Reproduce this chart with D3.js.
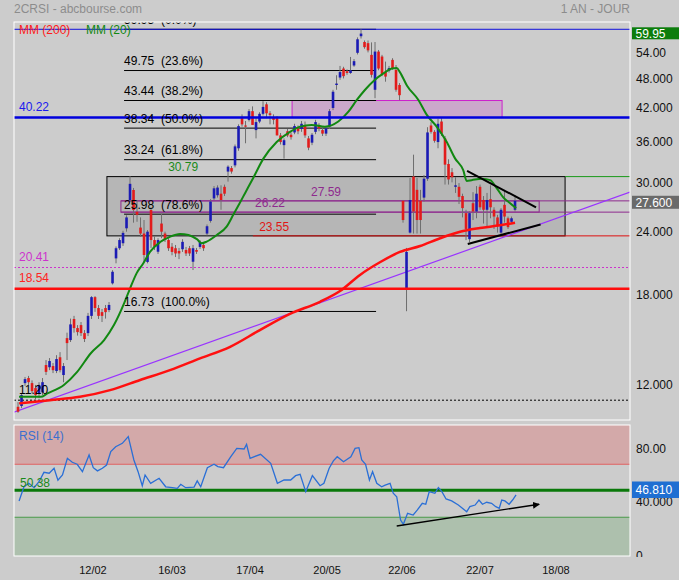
<!DOCTYPE html>
<html>
<head>
<meta charset="utf-8">
<script src="https://cdn.jsdelivr.net/npm/d3@7"></script>
<style>
  body { margin: 0; background: #cccccc; }
  svg { display: block; font-family: "Liberation Sans", Arial, sans-serif; }
</style>
</head>
<body>
<svg id="chart" width="679" height="580"></svg>
<script>
// daily candles, one entry per session (index 0 = first session shown)
const open = [10.87, 10.91, 12.1, 12.38, 12.1, 11.83, 11.56, 11.6, 13.13, 13.0, 13.07, 12.78, 13.6, 12.55, 14.83, 14.7, 16.17, 15.52, 15.73, 15.17,
  15.17, 16.4, 17.85, 16.99, 16.68, 16.99, 16.84, 19.0, 21.27, 22.27, 22.78, 24.37, 27.7, 28.98, 26.27, 24.45, 23.8, 20.93, 26.47, 23.11,
  21.92, 24.9, 23.8, 23.11, 22.42, 22.27, 22.0, 22.17, 22.09, 22.27, 20.95, 22.09, 22.4, 22.6, 23.8, 25.2, 27.9, 28.3, 28.5, 29.4,
  31.5, 32.0, 32.4, 35.0, 40.1, 38.8, 39.78, 41.4, 38.0, 39.5, 40.9, 42.7, 41.0, 40.2, 40.1, 37.1, 35.5, 37.8, 37.2, 37.6,
  38.3, 38.2, 38.7, 36.6, 35.9, 37.7, 38.8, 38.0, 37.4, 38.6, 42.0, 46.6, 48.2, 50.2, 49.6, 49.2, 50.9, 53.9, 58.1, 56.6,
  56.3, 53.4, 45.6, 54.2, 53.0, 49.5, 49.7, 52.2, 49.9, 46.6, 27.6, 18.57, 23.9, 30.8, 29.0, 27.6, 28.0, 30.5, 38.8, 37.7,
  36.0, 39.5, 36.6, 32.6, 31.4, 29.4, 29.4, 28.2, 26.1, 23.2, 27.3, 26.3, 29.4, 27.7, 26.5, 27.8, 26.5, 25.6, 23.9, 27.1,
  25.5, 25.1, 26.5];
const high = [11.1, 11.56, 12.44, 12.5, 12.25, 12.0, 12.15, 12.38, 13.43, 13.55, 13.25, 13.73, 13.92, 13.25, 15.2, 16.2, 16.4, 15.73, 15.95, 15.38,
  16.62, 17.93, 17.93, 17.23, 16.92, 17.23, 17.46, 20.17, 22.45, 23.3, 24.1, 25.85, 30.85, 29.25, 27.7, 25.6, 25.3, 24.18, 26.8, 23.5,
  23.3, 26.0, 24.0, 23.3, 22.8, 22.6, 22.3, 23.2, 22.4, 22.5, 22.6, 22.3, 23.1, 22.8, 24.8, 27.8, 29.5, 29.6, 29.6, 29.7,
  32.4, 32.3, 35.6, 39.0, 40.8, 39.6, 41.8, 42.3, 40.2, 41.2, 43.3, 43.1, 41.4, 40.8, 40.5, 37.5, 36.6, 38.2, 37.6, 39.1,
  38.8, 39.6, 39.5, 37.0, 37.5, 39.8, 39.2, 38.4, 38.7, 41.8, 45.6, 48.7, 50.8, 50.6, 50.0, 52.9, 52.4, 57.8, 59.95, 57.0,
  57.0, 56.5, 56.6, 54.6, 53.4, 51.8, 50.8, 52.6, 51.0, 47.0, 27.7, 22.3, 30.6, 34.0, 30.6, 29.0, 31.0, 38.5, 39.4, 38.0,
  40.0, 40.1, 37.0, 33.3, 32.0, 30.7, 29.9, 28.5, 26.5, 26.3, 28.7, 29.5, 29.7, 28.2, 28.6, 29.6, 26.8, 25.9, 26.7, 29.0,
  25.7, 25.7, 28.3];
const low = [10.58, 10.81, 11.95, 12.0, 11.55, 11.25, 11.3, 11.46, 12.55, 12.83, 12.66, 12.66, 12.7, 12.15, 13.43, 14.57, 15.2, 15.0, 14.97, 14.57,
  14.97, 16.17, 16.7, 16.17, 15.95, 16.2, 16.68, 18.9, 20.8, 22.1, 22.5, 24.0, 27.45, 25.0, 25.1, 23.45, 20.9, 20.8, 22.3, 22.1,
  21.7, 23.3, 22.9, 22.0, 21.57, 21.4, 21.2, 21.9, 21.5, 21.5, 20.18, 21.7, 22.2, 22.0, 23.6, 25.0, 27.7, 28.0, 26.5, 28.2,
  30.1, 31.2, 32.1, 34.6, 38.6, 35.8, 39.5, 38.9, 36.6, 39.2, 40.6, 40.1, 39.0, 39.0, 37.1, 35.6, 33.4, 36.8, 36.4, 37.3,
  37.3, 37.7, 36.7, 34.7, 35.5, 37.3, 37.8, 37.0, 37.0, 38.2, 41.6, 45.6, 47.7, 48.0, 48.8, 49.0, 50.6, 53.5, 57.5, 54.9,
  54.0, 48.2, 43.9, 49.8, 48.5, 47.3, 49.3, 49.9, 45.2, 43.5, 25.0, 16.75, 23.8, 23.8, 23.8, 23.8, 27.5, 30.2, 37.4, 35.9,
  35.0, 37.0, 29.7, 29.7, 30.0, 28.6, 27.2, 25.6, 23.1, 22.9, 25.3, 25.5, 26.5, 24.9, 24.6, 25.5, 24.3, 23.9, 23.7, 25.0,
  24.3, 24.9, 26.3];
const close = [10.63, 11.46, 12.32, 12.15, 11.67, 11.46, 12.0, 12.15, 12.73, 13.37, 12.83, 13.49, 12.83, 13.07, 14.5, 15.78, 15.52, 15.24, 15.17, 14.77,
  16.4, 17.85, 16.99, 16.4, 16.4, 16.68, 17.23, 20.02, 22.27, 23.11, 23.87, 25.6, 29.8, 26.47, 25.9, 23.8, 21.6, 24.0, 23.11, 22.42,
  23.11, 24.0, 23.17, 22.27, 21.9, 21.75, 21.75, 22.92, 21.75, 21.75, 22.27, 21.92, 22.92, 22.27, 24.6, 27.5, 29.2, 29.3, 27.7, 28.5,
  32.2, 31.5, 35.3, 38.7, 39.0, 38.6, 41.4, 38.9, 39.4, 40.9, 42.2, 41.0, 40.7, 39.8, 37.1, 36.0, 36.3, 37.1, 36.8, 38.7,
  37.8, 39.1, 37.1, 35.1, 37.2, 39.4, 38.3, 37.4, 38.3, 41.4, 45.2, 46.9, 49.4, 48.5, 49.2, 49.8, 51.9, 57.3, 58.8, 55.3,
  54.5, 48.8, 54.2, 50.2, 48.9, 48.4, 50.3, 50.3, 45.6, 44.5, 25.3, 21.9, 27.7, 26.3, 25.3, 25.3, 30.5, 37.6, 37.7, 36.2,
  39.1, 37.4, 32.5, 30.4, 30.7, 29.6, 28.1, 26.7, 24.3, 26.1, 26.3, 28.5, 26.8, 26.5, 27.7, 26.8, 25.7, 24.6, 26.5, 25.7,
  24.5, 25.5, 27.6];

// moving averages: [session index, price]
const ma20 = [[0.3, 11.37], [6.5, 11.37], [8.4, 11.55], [13.1, 12.0], [16.9, 12.73], [20.8, 13.85], [24.6, 14.7], [27.4, 15.73],
  [30.3, 17.35], [32, 18.56], [33.9, 19.9], [35.8, 20.8], [37.7, 21.9], [40.6, 22.9], [43.4, 23.45], [46.3, 23.75], [48.7, 23.65],
  [51.1, 23.2], [52.5, 22.78], [53.9, 22.95], [56.8, 23.65], [59.6, 24.55], [61.5, 25.9], [63.2, 27.2], [64.9, 28.6], [67.2, 30.6],
  [70.1, 33.4], [73.9, 36.0], [77.7, 37.7], [80.6, 38.6], [83.9, 38.9], [87.7, 38.6], [91.5, 39.5], [94.4, 41.3], [96.8, 43.55],
  [99.1, 45.56], [101.9, 47.67], [104.4, 49.1], [106.8, 50.2], [108.2, 50.3], [109.1, 49.4], [111.1, 46.5], [114.4, 43.55],
  [116.8, 40.7], [119.6, 38.6], [122.5, 36.0], [124.9, 33.4], [127.2, 31.7], [128.2, 30.2], [129.6, 30.3], [132.5, 30.5],
  [134.9, 30.3], [136.8, 29.2], [138.7, 28.0], [140.6, 27.3], [142.3, 26.7]];
const ma200 = [[0.3, 11.04], [9.1, 11.2], [17.7, 11.37], [26.3, 11.72], [34.9, 12.27], [43.4, 12.83], [52, 13.53], [60.6, 14.26],
  [69.1, 15.38], [77.7, 16.55], [86.3, 17.48], [92, 18.35], [97.7, 19.74], [103.4, 20.9], [109.1, 21.9], [114.9, 22.5],
  [120.6, 23.3], [126.3, 24.0], [132, 24.4], [137.7, 24.7], [142, 25.0]];

// RSI(14): [session index, value]
const rsi = [[0.3, 42.3], [1.7, 53], [3.1, 55.6], [4.6, 52.3], [6, 56.8], [7.4, 63.9], [8.9, 63.2], [10.3, 67], [11.4, 58], [12.7, 62],
  [14.1, 74.5], [15.5, 71.5], [16.9, 70], [18.4, 64.4], [20.3, 77], [21.5, 67.4], [22.7, 65], [24.1, 67], [25.3, 69.4], [26.5, 79.5],
  [27.9, 83.2], [29.8, 85.8], [31.5, 90.8], [33.1, 73.2], [34.3, 64.4], [35.5, 53.8], [36.3, 61.9], [37.9, 55.6], [40.3, 59.4],
  [42.2, 53], [44.1, 52.3], [45.5, 51.8], [46.5, 54.9], [47.9, 52.3], [50.3, 52.8], [51.2, 57.4], [52.2, 53], [54.1, 67.4], [56, 70],
  [57.1, 68.2], [58.7, 67.4], [60.8, 75.7], [62.5, 82], [64.6, 81.5], [65.3, 85], [66.3, 74.5], [69.3, 77.5], [72.2, 70.7],
  [74.1, 55.6], [76, 58.1], [77.9, 58.1], [79.3, 61.4], [80.6, 62.4], [82.2, 49.3], [84.1, 61.4], [86.3, 53.8], [87.4, 55.6],
  [88.9, 67], [90.1, 72.5], [91.2, 75.7], [93, 71.9], [95.1, 75.7], [96.3, 82], [97.4, 82.5], [98.2, 73.2], [99.3, 70],
  [100.4, 58.1], [101.3, 64.4], [102.5, 55.6], [103.9, 53], [104.9, 54.3], [106.3, 55.6], [107.2, 48.1], [108.2, 45.5],
  [109.3, 27.9], [110.1, 24.7], [111.3, 33], [112.9, 31.7], [114.1, 35.5], [115.5, 40.5], [116.5, 39.8], [117.5, 49.3],
  [119.1, 48.1], [120.1, 52.3], [121.1, 49.3], [122.3, 43.8], [123.9, 42.3], [125.8, 39.2], [128.2, 34.2], [129.1, 38],
  [130.6, 39.2], [131.7, 43], [132.7, 39.8], [133.9, 41.3], [135.3, 40.5], [136.5, 38], [137.5, 36.8], [138.2, 43],
  [139.1, 42.3], [140.3, 39.8], [141.3, 43], [142.3, 46.8]];

// axes
const priceTicks = [54, 48, 42, 36, 30, 24, 18, 12];
const priceTickLabels = ['54.00', '48.000', '42.000', '36.000', '30.000', '24.000', '18.000', '12.000'];
const rsiTicks = [80, 40, 0];
const rsiTickLabels = ['80.00', '40.000', '0'];
const dateTicks = [21.4, 44, 66.3, 88.3, 109.7, 132, 153.7];
const dateLabels = ['12/02', '16/03', '17/04', '20/05', '22/06', '22/07', '18/08'];

// fibonacci retracement
const fibLevels = [59.95, 49.75, 43.44, 38.34, 33.24, 25.98, 16.73];
const fibPcts = ['(0.0%)', '(23.6%)', '(38.2%)', '(50.0%)', '(61.8%)', '(78.6%)', '(100.0%)'];
const fibSpan = [30.3, 102.3];

// drawn levels and zones
const lastHigh = 59.95;
const resistance = 40.22;
const support = 18.54;
const dottedLevel = 20.41;
const lowLevel = 11.20;
const grayZone = {from: 25.4, to: 156.3, lo: 23.55, hi: 30.79};
const pinkZone = {from: 78.3, to: 138.3, lo: 40.22, hi: 43.44};
const purpleZone = {from: 29.4, to: 148.9, lo: 26.22, hi: 27.59};
const redLevelFrom = 67.1;
const trendLine = [[-1.15, 10.61], [174.85, 28.72]];
const triangleTop = [[128.3, 31.6], [148, 26.8]];
const triangleBottom = [[128.5, 22.7], [149.3, 24.8]];
const rsiArrow = [[108.2, 23.4], [148.9, 39.8]];
const lastPrice = 27.6;
const lastRsi = 46.81;
const rsiMid = 50.38;

const W = 679, H = 580;
const main = {left: 14, right: 630, top: 22, bottom: 420};
const sub = {top: 425, bottom: 556};

const svg = d3.select('#chart');
svg.append('rect').attr('width', W).attr('height', H).attr('fill', '#cccccc');

const x = d3.scaleLinear().domain([-1.15, 174.85]).range([main.left, main.right]);
const y = d3.scaleLog().domain([10.24, 61.96]).range([main.bottom, main.top]);
const yr = d3.scaleLinear().domain([0, 100]).range([557, 424.5]);

const defs = svg.append('defs');
defs.append('clipPath').attr('id', 'clipMain').append('rect')
    .attr('x', main.left).attr('y', main.top)
    .attr('width', main.right - main.left).attr('height', main.bottom - main.top);
defs.append('clipPath').attr('id', 'clipSub').append('rect')
    .attr('x', main.left).attr('y', sub.top)
    .attr('width', main.right - main.left).attr('height', sub.bottom - sub.top);
defs.append('clipPath').attr('id', 'clipAxis').append('rect')
    .attr('x', main.right).attr('y', sub.top).attr('width', W - main.right).attr('height', sub.bottom + 1 - sub.top);
defs.append('marker').attr('id', 'arrow').attr('viewBox', '0 0 10 10')
    .attr('refX', 9).attr('refY', 5).attr('markerWidth', 7).attr('markerHeight', 7)
    .attr('markerUnits', 'userSpaceOnUse').attr('orient', 'auto')
  .append('path').attr('d', 'M0,0L10,5L0,10Z').attr('fill', '#000');

// title
svg.append('text').attr('x', 14).attr('y', 13).attr('font-size', 12).attr('fill', '#8c8c8c')
    .text('2CRSI - abcbourse.com');
svg.append('text').attr('x', 630).attr('y', 13).attr('font-size', 12).attr('fill', '#8c8c8c')
    .attr('text-anchor', 'end').text('1 AN - JOUR');

// ---------- price panel ----------
const pg = svg.append('g').attr('clip-path', 'url(#clipMain)');

function hline(g, price, x0, x1, color, width, dash) {
  g.append('line')
      .attr('x1', x0).attr('x2', x1).attr('y1', y(price)).attr('y2', y(price))
      .attr('stroke', color).attr('stroke-width', width)
      .attr('stroke-dasharray', dash || null);
}

function zone(g, z, fill, stroke) {
  g.append('rect')
      .attr('x', x(z.from)).attr('y', y(z.hi))
      .attr('width', x(z.to) - x(z.from)).attr('height', y(z.lo) - y(z.hi))
      .attr('fill', fill).attr('stroke', stroke).attr('stroke-width', 1);
}

zone(pg, grayZone, '#b6b6b6', '#000');
zone(pg, pinkZone, '#cba8cb', '#cc22cc');

// fib lines
fibLevels.forEach(v => hline(pg, v, x(fibSpan[0]), x(fibSpan[1]), '#000', 1));

// purple zone: box plus lines running to the right edge
pg.append('rect')
    .attr('x', x(purpleZone.from)).attr('y', y(purpleZone.hi))
    .attr('width', x(purpleZone.to) - x(purpleZone.from)).attr('height', y(purpleZone.lo) - y(purpleZone.hi))
    .attr('fill', 'none').attr('stroke', '#8e2a8e').attr('stroke-width', 1);
hline(pg, purpleZone.hi, x(purpleZone.from), main.right, '#8e2a8e', 1);
hline(pg, purpleZone.lo, x(purpleZone.from), main.right, '#8e2a8e', 1);

hline(pg, grayZone.hi, x(grayZone.to), main.right, '#1a9a1a', 1);
hline(pg, grayZone.lo, x(redLevelFrom), main.right, '#dd1111', 1);
hline(pg, dottedLevel, main.left, main.right, '#cc33cc', 1, '2,2');
hline(pg, lowLevel, main.left, main.right, '#000', 1, '2,2');
hline(pg, lastHigh, main.left, main.right, '#1010dd', 1);

// trend line
const pt = d3.line().x(d => x(d[0])).y(d => y(d[1]));
pg.append('path').attr('d', pt(trendLine)).attr('fill', 'none')
    .attr('stroke', '#9933ff').attr('stroke-width', 1.2);

// candles
const idx = d3.range(open.length);
const bw = 2.6;
pg.append('g').selectAll('line').data(idx).join('line')
    .attr('x1', i => x(i)).attr('x2', i => x(i))
    .attr('y1', i => y(high[i])).attr('y2', i => y(low[i]))
    .attr('stroke', '#6e6e6e').attr('stroke-width', 1);
pg.append('g').selectAll('rect').data(idx).join('rect')
    .attr('x', i => x(i) - bw / 2)
    .attr('y', i => y(Math.max(open[i], close[i])))
    .attr('width', bw)
    .attr('height', i => Math.max(1.2, y(Math.min(open[i], close[i])) - y(Math.max(open[i], close[i]))))
    .attr('fill', i => close[i] >= open[i] ? '#1a1ab4' : '#e21b1b');

// moving averages
const smooth = d3.line().x(d => x(d[0])).y(d => y(d[1])).curve(d3.curveMonotoneX);
pg.append('path').attr('d', smooth(ma200)).attr('fill', 'none')
    .attr('stroke', '#ff1010').attr('stroke-width', 2.5);
pg.append('path').attr('d', smooth(ma20)).attr('fill', 'none')
    .attr('stroke', '#118811').attr('stroke-width', 2);

// strong levels
hline(pg, resistance, main.left, main.right, '#0000dd', 2.5);
hline(pg, support, main.left, main.right, '#ff0d0d', 2.5);

// triangle
[triangleTop, triangleBottom].forEach(seg => {
  pg.append('path').attr('d', pt(seg)).attr('fill', 'none')
      .attr('stroke', '#000').attr('stroke-width', 2);
});

// labels
function label(g, txt, px, price, color, off) {
  g.append('text').attr('x', px).attr('y', y(price) - off)
      .attr('font-size', 12).attr('fill', color).text(txt);
}
fibLevels.forEach((v, i) => {
  label(pg, v.toFixed(2), x(fibSpan[0]), v, '#000', 5.5);
  label(pg, fibPcts[i], x(fibSpan[0]) + 37, v, '#000', 5.5);
});
label(pg, 'MM (200)', 19, lastHigh, '#ff1a1a', -4.5);
label(pg, 'MM (20)', 86, lastHigh, '#118811', -4.5);
label(pg, resistance.toFixed(2), 19, resistance, '#1a1aee', 6.5);
label(pg, dottedLevel.toFixed(2), 19, dottedLevel, '#cc33cc', 6.5);
label(pg, support.toFixed(2), 19, support, '#ff2222', 7);
label(pg, lowLevel.toFixed(2), 19, lowLevel, '#000', 6.5);
label(pg, grayZone.hi.toFixed(2), x(42.9), grayZone.hi, '#1a8a1a', 5.5);
label(pg, purpleZone.hi.toFixed(2), x(83.7), purpleZone.hi, '#8e2a8e', 4.5);
label(pg, purpleZone.lo.toFixed(2), x(67.7), purpleZone.lo, '#8e2a8e', 5);
label(pg, grayZone.lo.toFixed(2), x(68.9), grayZone.lo, '#e01515', 5);

svg.append('rect').attr('x', main.left).attr('y', main.top)
    .attr('width', main.right - main.left).attr('height', main.bottom - main.top)
    .attr('fill', 'none').attr('stroke', '#ffffff').attr('stroke-width', 1);

// right price axis
const ax = svg.append('g');
ax.selectAll('text').data(priceTicks).join('text')
    .attr('x', 636).attr('y', d => y(d)).attr('dy', '0.35em')
    .attr('font-size', 12).attr('fill', '#111')
    .text((d, i) => priceTickLabels[i]);

function valueBox(g, cy, h, txt, fill) {
  g.append('rect').attr('x', 632).attr('y', cy - h / 2).attr('width', 47).attr('height', h).attr('fill', fill);
  g.append('text').attr('x', 635.5).attr('y', cy).attr('dy', '0.36em')
      .attr('font-size', 12).attr('fill', '#fff').text(txt);
}
valueBox(ax, y(lastHigh) + 4, 12, lastHigh.toFixed(2), '#0c7d0c');
valueBox(ax, y(lastPrice) + 1.5, 13, lastPrice.toFixed(3), '#6a6a6a');

// ---------- RSI panel ----------
const rg = svg.append('g').attr('clip-path', 'url(#clipSub)');
rg.append('rect').attr('x', main.left).attr('y', yr(100)).attr('width', main.right - main.left)
    .attr('height', yr(70) - yr(100)).attr('fill', '#d3a9a9');
rg.append('rect').attr('x', main.left).attr('y', yr(30)).attr('width', main.right - main.left)
    .attr('height', yr(0) - yr(30)).attr('fill', '#adc0ad');
rg.append('line').attr('x1', main.left).attr('x2', main.right).attr('y1', yr(70)).attr('y2', yr(70))
    .attr('stroke', '#e06262').attr('stroke-width', 1);
rg.append('line').attr('x1', main.left).attr('x2', main.right).attr('y1', yr(30)).attr('y2', yr(30))
    .attr('stroke', '#4a9a4a').attr('stroke-width', 1);
rg.append('line').attr('x1', main.left).attr('x2', main.right).attr('y1', yr(rsiMid)).attr('y2', yr(rsiMid))
    .attr('stroke', '#0a780a').attr('stroke-width', 3);

const rl = d3.line().x(d => x(d[0])).y(d => yr(d[1]));
rg.append('path').attr('d', rl(rsi)).attr('fill', 'none')
    .attr('stroke', '#2a6fd6').attr('stroke-width', 1.3);
rg.append('path').attr('d', rl(rsiArrow)).attr('fill', 'none')
    .attr('stroke', '#000').attr('stroke-width', 1.3).attr('marker-end', 'url(#arrow)');

rg.append('text').attr('x', 19).attr('y', 440).attr('font-size', 12).attr('fill', '#3a6fcf').text('RSI (14)');
rg.append('text').attr('x', 20).attr('y', yr(rsiMid) - 3.5).attr('font-size', 12).attr('fill', '#1a8a1a')
    .text(rsiMid.toFixed(2));

svg.append('rect').attr('x', main.left).attr('y', sub.top)
    .attr('width', main.right - main.left).attr('height', sub.bottom - sub.top)
    .attr('fill', 'none').attr('stroke', '#ffffff').attr('stroke-width', 1);

const rax = svg.append('g').attr('clip-path', 'url(#clipAxis)');
rax.selectAll('text').data(rsiTicks).join('text')
    .attr('x', 636).attr('y', d => yr(d) - (d === 0 ? 1.5 : d === 40 ? 2 : 2)).attr('dy', '0.35em')
    .attr('font-size', 12).attr('fill', '#111')
    .text((d, i) => rsiTickLabels[i]);
valueBox(rax, yr(rsiMid) - 0.5, 16.5, lastRsi.toFixed(3), '#1f6fd2');

// date axis
svg.append('g').selectAll('text').data(dateTicks).join('text')
    .attr('x', d => x(d)).attr('y', 574).attr('text-anchor', 'middle')
    .attr('font-size', 11).attr('fill', '#111')
    .text((d, i) => dateLabels[i]);
</script>
</body>
</html>
